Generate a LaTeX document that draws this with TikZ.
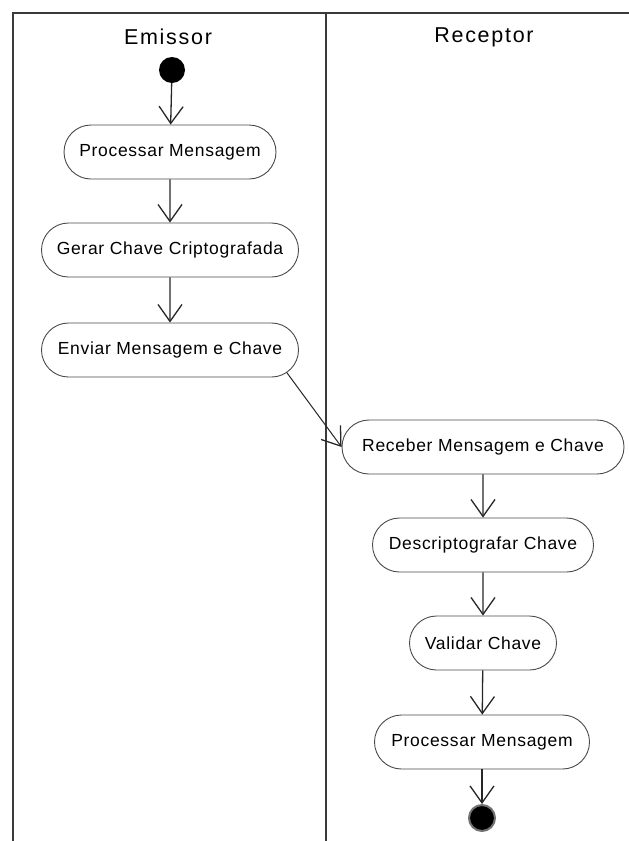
\documentclass[tikz,border=0pt]{standalone}
\usepackage{fontspec}
\setmainfont{Liberation Sans}
\usepackage{tikz}
\usetikzlibrary{arrows.meta, shapes.misc}
\definecolor{lanegray}{HTML}{3A3A3A}
\definecolor{boxgray}{HTML}{4A4A4A}

\tikzset{
  raia/.style={draw=lanegray, line width=1.8pt},
  cabecalho/.style={font=\fontsize{21.5}{24}\selectfont\addfontfeature{LetterSpace=8}},
  acao/.style={rounded rectangle, draw=boxgray, line width=0.9pt, minimum height=54pt,
    inner xsep=4pt, font=\fontsize{17.5}{20}\selectfont\addfontfeature{LetterSpace=4}},
  fluxo/.style={draw=black!85, line width=1.3pt,
    -{Straight Barb[length=17pt, width=24pt, line width=1.3pt]}},
}

\begin{document}
\begin{tikzpicture}[x=1pt, y=-1pt]
\useasboundingbox (0,0) rectangle (629,841);
% raias
\draw[raia] (13,841) -- (13,13) -- (629,13);
\draw[raia] (326,13) -- (326,841);
\node[cabecalho] (emissor) at (168,37) {Emissor};
\node[cabecalho] (receptor) at (484,37) {Receptor};

% emissor
\node[circle, fill=black, inner sep=0pt, minimum size=26pt] (inicio) at (172,70) {};
\node[acao, minimum width=220pt] (proc1) at (170,152) {Processar Mensagem};
\node[acao, minimum width=265pt] (gerar) at (170,250) {Gerar Chave Criptografada};
\node[acao, minimum width=265pt] (enviar) at (170,350) {Enviar Mensagem e Chave};

% receptor
\node[acao, minimum width=290pt] (receber) at (483,447) {Receber Mensagem e Chave};
\node[acao, minimum width=229pt] (descr) at (483,545) {Descriptografar Chave};
\node[acao, minimum width=155pt] (validar) at (483,643) {Validar Chave};
\node[acao, minimum width=223pt] (proc2) at (482,742) {Processar Mensagem};
\node[circle, draw=black!55, line width=2pt, fill=black, inner sep=0pt, minimum size=26pt] (fim) at (482,818) {};

% fluxos
\draw[fluxo] (inicio) -- (proc1);
\draw[fluxo] (proc1) -- (gerar);
\draw[fluxo] (gerar) -- (enviar);
\draw[fluxo, line width=1pt] (enviar.-11) -- (receber.west);
\draw[fluxo] (receber) -- (descr);
\draw[fluxo] (descr) -- (validar);
\draw[fluxo] (validar) -- (proc2);
\draw[fluxo] (proc2) -- (fim);
\end{tikzpicture}
\end{document}
